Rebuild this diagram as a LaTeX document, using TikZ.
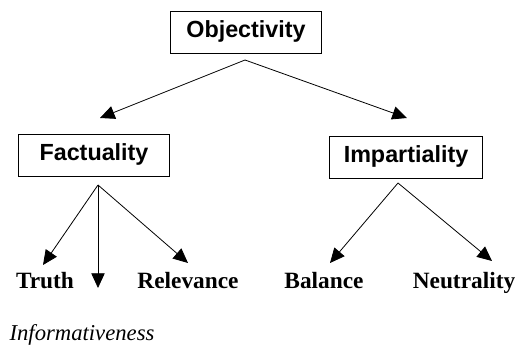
\documentclass[tikz,border=0pt]{standalone}
\usepackage{fontspec}
\setmainfont{Liberation Serif}
\setsansfont{Liberation Sans}
\usepackage{tikz}
\usetikzlibrary{arrows.meta}

\begin{document}
\begin{tikzpicture}
  [x=0.75pt,y=-0.75pt,every node/.style={inner sep=0pt},
   box/.style={draw,line width=0.9pt,font=\sffamily\bfseries\fontsize{17.5}{20}\selectfont,
     minimum width=113pt,minimum height=31pt,text height=0.72em,text depth=0pt},
   leaf/.style={anchor=base,font=\bfseries\fontsize{17.5}{20}\selectfont},
   arr/.style={line width=0.6pt,-{Triangle[length=11pt,width=10pt]}}]

  \useasboundingbox (0,0) rectangle (517,345);

  \node[box] (obj) at (246,32.5) {Objectivity};
  \node[box] (fact) at (94,155.5) {Factuality};
  \node[box,minimum width=115pt,minimum height=32pt] (imp) at (406,157.5) {Impartiality};

  \node[leaf] (truth) at (45,288) {Truth};
  \node[leaf] (rel) at (188,288) {Relevance};
  \node[leaf] (bal) at (324,288) {Balance};
  \node[leaf] (neu) at (464,288) {Neutrality};
  \node[anchor=base,font=\itshape\fontsize{17}{20}\selectfont] (inf) at (82,340) {Informativeness};

  \coordinate (o) at (245,60);
  \coordinate (f) at (98,185);
  \coordinate (i) at (398,183);
  \coordinate (tf) at (100,118);
  \coordinate (ti) at (407,118);
  \coordinate (tt) at (43,265);
  \coordinate (tinf) at (98,288);
  \coordinate (trel) at (188,263);
  \coordinate (tbal) at (330,263);
  \coordinate (tneu) at (492,261);

  \foreach \from/\to in {o/tf,o/ti,f/tt,f/tinf,f/trel,i/tbal,i/tneu}
    \draw[arr] (\from) -- (\to);
\end{tikzpicture}
\end{document}
